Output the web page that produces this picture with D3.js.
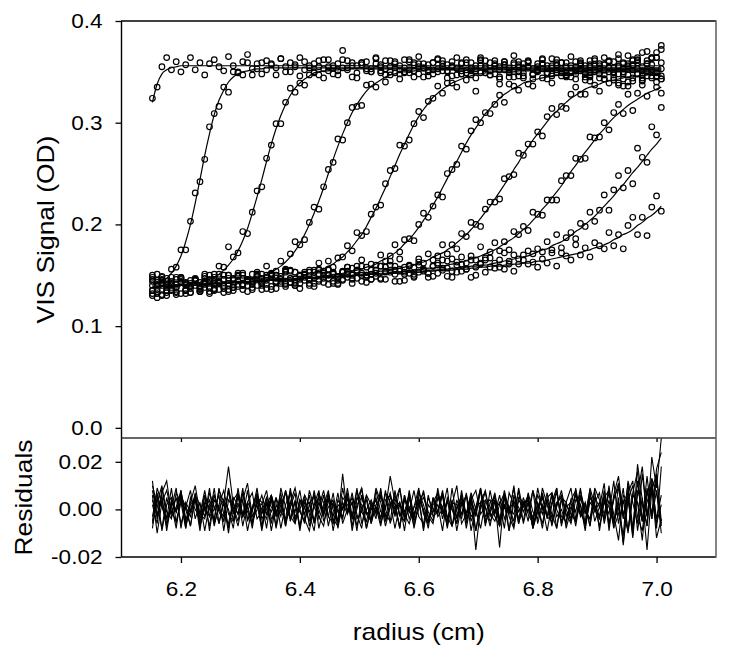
<!DOCTYPE html>
<html><head><meta charset="utf-8">
<script src="https://cdn.jsdelivr.net/npm/d3@7"></script>
<style>
body{margin:0;background:#fff;}
svg{display:block;}
text{font-family:"Liberation Sans", Arial, Helvetica, sans-serif;fill:#000;}
</style>
</head><body>
<svg id="chart" width="729" height="657"></svg>
<script>
// radius grid (cm)
const radius = [
6.152,6.160,6.168,6.176,6.184,6.192,6.200,6.208,6.216,6.224,6.232,6.240,
6.248,6.256,6.264,6.272,6.280,6.288,6.296,6.304,6.312,6.320,6.328,6.336,
6.344,6.352,6.360,6.368,6.376,6.384,6.392,6.400,6.408,6.416,6.424,6.432,
6.440,6.448,6.456,6.464,6.472,6.480,6.488,6.496,6.504,6.512,6.520,6.528,
6.536,6.544,6.552,6.560,6.568,6.576,6.584,6.592,6.600,6.608,6.616,6.624,
6.632,6.640,6.648,6.656,6.664,6.672,6.680,6.688,6.696,6.704,6.712,6.720,
6.728,6.736,6.744,6.752,6.760,6.768,6.776,6.784,6.792,6.800,6.808,6.816,
6.824,6.832,6.840,6.848,6.856,6.864,6.872,6.880,6.888,6.896,6.904,6.912,
6.920,6.928,6.936,6.944,6.952,6.960,6.968,6.976,6.984,6.992,7.000,7.008];

// fitted signal per scan (milli-OD)
const fit1 = [
320,338,348,352,354,355,356,356,356,356,356,356,
356,356,356,356,356,356,356,356,356,356,356,356,
356,356,356,356,356,356,356,356,356,356,356,356,
356,356,356,356,356,356,356,356,356,356,356,356,
356,356,356,356,356,356,356,356,356,356,356,356,
356,356,356,356,356,356,356,356,356,356,356,356,
356,356,356,356,356,356,356,356,356,356,356,356,
356,356,356,356,356,356,356,356,356,356,356,356,
356,356,356,356,356,356,356,356,356,356,356,356];
const fit2 = [
140,142,144,147,152,159,169,183,200,221,244,268,
289,308,322,332,340,345,348,350,351,352,353,353,
354,354,354,354,354,354,354,354,354,354,354,354,
354,354,354,354,354,354,354,354,354,354,354,354,
354,354,354,354,354,354,354,354,354,354,354,354,
354,354,354,354,354,354,354,354,354,354,354,354,
354,354,354,354,354,354,354,354,354,354,354,354,
354,354,354,354,354,354,354,354,354,354,354,354,
354,354,354,354,354,354,354,354,354,354,354,354];
const fit3 = [
138,138,139,139,139,140,140,141,141,142,143,145,
146,148,151,155,160,166,174,184,196,211,227,244,
262,279,294,307,318,327,334,339,343,346,349,350,
351,351,352,352,353,353,353,353,353,353,353,353,
353,353,353,353,353,353,353,353,353,353,353,353,
353,353,353,353,353,353,353,353,353,353,353,353,
353,353,353,353,353,353,353,353,353,353,353,353,
353,353,353,353,353,353,353,353,353,353,353,353,
353,353,353,353,353,353,353,353,353,353,353,353];
const fit4 = [
138,138,139,139,139,139,140,140,140,140,141,141,
141,142,142,142,143,144,144,145,146,147,148,149,
151,153,156,159,163,168,174,181,190,200,211,223,
236,250,264,277,289,300,310,318,325,331,336,339,
342,345,347,348,350,350,350,351,351,351,352,352,
352,352,352,352,352,352,352,352,352,352,352,352,
352,352,352,352,352,352,352,352,352,352,352,352,
352,352,352,352,352,352,352,352,352,352,352,352,
352,352,352,352,352,352,352,352,352,352,352,352];
const fit5 = [
138,138,139,139,139,139,140,140,140,140,141,141,
141,142,142,142,142,143,143,143,144,144,145,145,
145,146,146,147,147,148,149,149,150,152,153,155,
156,159,161,165,168,173,178,184,190,198,207,216,
226,236,247,258,269,279,289,298,306,313,319,325,
329,333,336,339,341,343,345,346,348,348,349,349,
350,350,350,350,350,351,351,351,351,351,351,351,
351,351,351,351,351,351,351,351,351,351,351,351,
351,351,351,351,351,351,351,351,351,351,351,351];
const fit6 = [
138,138,139,139,139,139,140,140,140,140,141,141,
141,142,142,142,142,143,143,143,143,144,144,144,
145,145,145,146,146,146,147,147,147,148,148,149,
149,150,151,151,152,153,154,155,156,158,159,161,
164,166,169,172,176,181,185,191,197,204,211,219,
227,236,245,254,262,271,280,288,295,302,309,314,
319,324,328,331,334,336,339,340,342,343,344,345,
346,347,347,348,348,348,349,349,349,349,349,349,
350,350,350,350,350,350,350,350,350,350,350,350];
const fit7 = [
138,138,139,139,139,139,140,140,140,140,141,141,
141,142,142,142,142,143,143,143,143,144,144,144,
145,145,145,145,146,146,146,146,147,147,147,148,
148,149,149,149,150,150,150,151,151,152,152,153,
154,154,155,156,157,158,159,160,162,163,165,168,
170,172,175,178,182,186,190,195,200,206,212,218,
225,232,239,246,254,261,269,276,283,289,295,301,
307,311,316,320,324,327,330,333,335,336,338,340,
341,342,343,344,345,345,346,346,347,347,347,347];
const fit8 = [
138,138,139,139,139,139,140,140,140,140,141,141,
141,142,142,142,142,143,143,143,143,144,144,144,
145,145,145,145,146,146,146,146,147,147,147,148,
148,148,148,149,149,149,150,150,150,151,151,151,
152,152,153,153,153,154,154,155,155,156,157,157,
158,159,160,161,162,163,164,166,167,169,171,173,
175,178,181,184,187,191,195,199,204,209,215,220,
226,232,238,245,252,258,265,271,277,283,289,294,
300,305,309,313,317,320,323,326,329,331,333,335];
const fit9 = [
138,138,139,139,139,139,140,140,140,140,141,141,
141,142,142,142,142,143,143,143,143,144,144,144,
145,145,145,145,146,146,146,146,147,147,147,148,
148,148,148,149,149,149,149,150,150,150,151,151,
151,151,152,152,152,152,153,153,153,154,155,155,
155,156,156,157,157,158,158,159,159,160,160,161,
162,163,164,165,166,167,168,169,171,173,175,176,
179,181,183,186,189,193,196,200,204,208,213,218,
223,228,234,239,245,251,256,262,268,274,279,285];
const fit10 = [
138,138,139,139,139,139,140,140,140,140,141,141,
141,142,142,142,142,143,143,143,143,144,144,144,
145,145,145,145,146,146,146,146,147,147,147,148,
148,148,148,149,149,149,149,150,150,150,151,151,
151,151,152,152,152,152,153,153,153,154,154,154,
155,155,155,155,156,156,156,157,157,158,158,159,
159,159,160,160,161,161,162,162,163,164,164,165,
166,167,168,169,170,171,172,174,175,177,178,180,
182,185,187,190,192,195,199,202,206,209,213,218];

// residuals per scan (milli-OD)
const res1 = [
4,-3,7,12,-2,5,-6,1,8,-4,3,-9,
2,6,-1,-5,9,0,-7,4,11,-3,2,-8,
5,1,-2,7,-6,3,-1,8,-4,-9,2,5,
-3,6,0,-5,15,-2,3,-7,1,4,-6,8,
-1,-3,5,2,-8,6,-4,1,9,-2,-6,3,
7,-1,-5,4,-9,2,6,-3,0,8,-7,3,
5,-4,1,-2,10,-6,2,4,-8,-1,6,-3,
7,0,-5,3,9,-4,2,-7,5,1,-3,8,
-6,4,11,-2,-9,6,3,-5,14,-4,8,-10];
const res2 = [
-5,9,2,-7,4,-1,6,-8,3,10,-2,-4,
7,1,-6,3,-10,5,2,-3,8,-5,0,6,
-2,4,-7,9,1,-4,3,-8,6,2,-5,1,
8,-3,-6,4,0,7,-9,2,5,-1,-4,9,
3,-7,1,6,-2,-5,8,-3,4,0,-8,5,
-1,7,-4,2,10,-6,-2,5,-3,8,1,-7,
4,-16,6,-9,3,1,-5,7,-1,-4,9,2,
-6,3,5,-8,0,6,-3,2,-7,9,4,-2,
7,-5,1,-11,12,3,-6,15,-3,9,-8,18];
const res3 = [
10,2,-8,5,-3,1,7,-6,-1,4,-9,6,
0,-4,8,3,18,2,-2,9,-5,1,6,-7,
3,-1,5,-8,2,7,-4,0,-6,8,1,-3,
-7,4,2,-5,9,-1,3,-9,6,-2,0,5,
-4,8,-6,1,3,-3,7,-8,2,5,-1,-5,
9,-2,4,-7,0,6,-4,1,-9,3,8,-2,
-5,2,7,-3,-8,4,1,6,-6,-1,5,-4,
3,9,-7,2,-2,-5,6,0,-4,8,-9,4,
1,-6,10,-3,5,-12,8,2,-7,11,-4,6];
const res4 = [
-8,5,1,-4,9,-6,3,2,-7,5,-2,8,
-3,0,6,-9,4,1,-5,7,-1,-6,3,2,
8,-4,-2,5,-7,3,9,-1,-5,2,6,-8,
1,4,-3,7,-6,0,5,-2,-8,6,2,-4,
9,-5,3,1,-7,4,-1,8,-3,-6,5,0,
-2,6,-8,3,2,-4,7,-5,1,9,-3,-1,
4,-7,5,0,-2,8,-6,3,-4,6,1,-9,
2,7,-3,-5,4,-1,9,-7,3,0,-4,5,
8,-2,-13,6,4,-8,12,-5,9,-2,17,24];
const res5 = [
6,-10,3,8,-1,-5,4,0,-7,6,2,-3,
9,-6,1,4,-8,3,-2,7,-4,0,5,-9,
2,6,-3,-1,8,-5,4,-7,1,3,-6,7,
-2,5,-9,2,0,6,-4,8,-1,-5,3,1,
-7,4,6,-3,9,-2,-6,1,5,-8,2,-1,
7,-4,3,0,-6,8,-3,5,-17,1,4,-2,
6,-7,2,-1,9,-5,3,4,-8,0,7,-3,
-5,1,8,-2,-6,4,2,-9,6,-1,3,-4,
9,-7,5,-15,4,10,-3,-9,7,13,-6,2];
const res6 = [
-3,7,-9,2,5,-1,8,-4,0,6,-7,3,
1,-5,9,-2,-6,4,7,-3,2,-8,5,0,
-4,6,-1,3,-7,8,-5,2,4,-2,-9,6,
3,-3,7,-6,1,5,-4,0,9,-8,2,-1,
6,-2,-5,8,-3,4,1,-7,3,7,-4,-1,
2,-9,5,0,-3,6,-6,4,8,-2,1,-5,
-1,3,-8,7,2,-4,5,-2,-6,9,0,4,
-7,2,6,-3,1,-5,8,-1,-4,3,7,-6,
4,-8,-2,9,-10,6,3,-13,8,-4,14,-7];
const res7 = [
8,-2,4,-6,1,9,-8,3,-1,5,-4,2,
-7,6,0,-3,8,-5,2,4,-9,1,7,-2,
3,-6,5,-1,-4,9,-3,0,6,-7,2,8,
-5,1,4,-8,3,-2,7,-4,-1,6,-6,2,
5,0,14,3,9,-5,1,-2,4,-9,6,-3,
-1,8,-4,2,-6,5,-2,7,0,-8,3,4,
-3,-7,6,1,-5,9,-1,3,-4,2,-8,5,
7,-3,0,-6,4,8,-2,-5,6,1,-7,3,
-2,12,-6,4,-9,7,16,-5,3,10,-12,-4];
const res8 = [
2,-6,9,-1,-4,7,3,-8,5,0,-3,6,
-9,4,1,-5,8,-2,6,-7,3,-1,9,-4,
0,5,-8,2,7,-3,-6,4,1,-5,8,-2,
6,-7,3,-1,-4,9,-3,5,2,-8,0,4,
-6,1,7,-2,3,-9,5,-4,8,-1,-5,2,
4,6,-3,-7,1,5,-8,3,-2,9,-6,0,
7,-4,2,-9,6,-1,3,-5,8,1,-6,4,
-2,-8,5,3,-4,7,-1,-6,9,2,-3,6,
-7,5,9,-4,11,-8,6,18,-3,13,7,-6];
const res9 = [
-6,3,10,-4,2,-8,6,1,-3,7,-5,0,
4,-7,2,8,-2,-5,9,-3,1,-6,5,3,
-8,6,-2,4,-5,1,7,-9,3,-1,6,-4,
2,8,-6,0,-3,5,-7,4,9,-2,-5,1,
-4,7,3,-8,2,-1,6,-5,0,8,-3,-6,
5,1,-7,9,-4,3,-2,6,-9,2,7,-3,
0,-5,8,-1,4,-6,2,5,-8,3,-2,7,
-4,9,-6,1,3,-7,5,-2,8,-5,1,11,
-9,6,14,-3,8,-11,19,4,-7,22,9,30];
const res10 = [
12,-4,6,-9,3,-1,8,-5,2,5,-7,1,
-3,9,-6,4,0,-8,6,-2,3,7,-4,-1,
5,-9,2,-3,8,1,-6,4,-2,6,-5,3,
-1,7,-4,-7,5,2,-3,9,-6,0,4,-2,
8,-5,1,3,-8,6,-1,-4,7,2,-6,5,
-3,0,9,-7,4,-2,6,-9,1,3,-5,8,
-2,6,-4,1,-7,5,3,-1,8,-6,2,-3,
6,-8,4,0,-5,9,-2,3,-7,5,1,-4,
10,-6,3,-14,7,12,-9,5,-17,8,15,-5];

// axis ticks / labels
const xTicks = [6.2, 6.4, 6.6, 6.8, 7.0];
const xTickLabels = ["6.2", "6.4", "6.6", "6.8", "7.0"];
const yTopTicks = [0.0, 0.1, 0.2, 0.3, 0.4];
const yTopTickLabels = ["0.0", "0.1", "0.2", "0.3", "0.4"];
const yResTicks = [-0.02, 0.0, 0.02];
const yResTickLabels = ["-0.02", "0.00", "0.02"];
const xTitle = "radius (cm)";
const yTopTitle = "VIS Signal (OD)";
const yResTitle = "Residuals";

const fits = [fit1, fit2, fit3, fit4, fit5, fit6, fit7, fit8, fit9, fit10];
const resids = [res1, res2, res3, res4, res5, res6, res7, res8, res9, res10];

// layout
const W = 729, H = 657;
const L = 121.5, R = 716, T = 21, MID = 438, B = 557;
const TICK_FONT = 20.5, TITLE_FONT = 24, STRETCH = 1.1;

const x = d3.scaleLinear().domain([6.1, 7.1]).range([L, R]);
const yTop = d3.scaleLinear().domain([-0.01, 0.4]).range([MID, T]);
const yRes = d3.scaleLinear().domain([-0.02, 0.03]).range([B, MID]);

const svg = d3.select("#chart");
svg.append("rect").attr("width", W).attr("height", H).attr("fill", "#fff");
svg.append("clipPath").attr("id", "resClip").append("rect")
  .attr("x", L).attr("y", MID - 1).attr("width", R - L).attr("height", B - MID + 1);

// top panel: points + fits
const gPts = svg.append("g");
fits.forEach((fit, s) => {
  const pts = radius.map((r, i) => ({ r: r, v: (fit[i] + resids[s][i]) / 1000 }));
  gPts.append("g").selectAll("circle").data(pts).join("circle")
    .attr("cx", d => x(d.r)).attr("cy", d => yTop(d.v)).attr("r", 2.8)
    .attr("fill", "none").attr("stroke", "#000").attr("stroke-width", 1.2);
});
const fitLine = d3.line().x((d, i) => x(radius[i])).y(d => yTop(d / 1000)).curve(d3.curveMonotoneX);
svg.append("g").selectAll("path").data(fits).join("path")
  .attr("d", fitLine).attr("fill", "none").attr("stroke", "#000").attr("stroke-width", 1.2);

// residual panel
const resLine = d3.line().x((d, i) => x(radius[i])).y(d => yRes(d / 1000));
svg.append("g").attr("clip-path", "url(#resClip)").selectAll("path").data(resids).join("path")
  .attr("d", resLine).attr("fill", "none").attr("stroke", "#000").attr("stroke-width", 1.1);

// axes
function styleAxis(g) {
  g.select(".domain").remove();
  g.selectAll(".tick line").attr("stroke", "#000").attr("stroke-width", 1.3);
  g.selectAll(".tick text").attr("font-size", TICK_FONT).attr("font-family", null).attr("fill", "#000");
}
svg.append("g").attr("transform", `translate(${L},0)`)
  .call(d3.axisLeft(yTop).tickValues(yTopTicks).tickFormat((d, i) => yTopTickLabels[i]).tickSize(6).tickPadding(13))
  .call(styleAxis);
svg.append("g").attr("transform", `translate(${L},0)`)
  .call(d3.axisLeft(yRes).tickValues(yResTicks).tickFormat((d, i) => yResTickLabels[i]).tickSize(6).tickPadding(13))
  .call(styleAxis);
svg.append("g").attr("transform", `translate(0,${B})`)
  .call(d3.axisBottom(x).tickValues(xTicks).tickFormat((d, i) => xTickLabels[i]).tickSize(6).tickPadding(18))
  .call(styleAxis);
// inner ticks at top of residual panel
svg.append("g").attr("transform", `translate(0,${MID})`)
  .call(d3.axisTop(x).tickValues(xTicks).tickFormat("").tickSize(-4))
  .call(styleAxis);

// frame
const frame = svg.append("g").attr("fill", "none");
frame.append("line").attr("x1", L - 0.5).attr("x2", R).attr("y1", T).attr("y2", T).attr("stroke", "#000").attr("stroke-width", 1.4);
frame.append("line").attr("x1", L).attr("x2", L).attr("y1", T).attr("y2", B).attr("stroke", "#000").attr("stroke-width", 1.4);
frame.append("line").attr("x1", L).attr("x2", R).attr("y1", B).attr("y2", B).attr("stroke", "#000").attr("stroke-width", 1.4);
frame.append("line").attr("x1", L).attr("x2", R).attr("y1", MID).attr("y2", MID).attr("stroke", "#333").attr("stroke-width", 1.4);
frame.append("line").attr("x1", R).attr("x2", R).attr("y1", T - 0.7).attr("y2", B + 0.7).attr("stroke", "#666").attr("stroke-width", 1.6);

// titles
svg.append("text").attr("x", (L + R) / 2).attr("y", 640).attr("text-anchor", "middle")
  .attr("font-size", TITLE_FONT).text(xTitle);
svg.append("text").attr("transform", `translate(54,${(T + MID) / 2}) rotate(-90)`).attr("text-anchor", "middle")
  .attr("font-size", TITLE_FONT).text(yTopTitle);
svg.append("text").attr("transform", `translate(32,${(MID + B) / 2}) rotate(-90)`).attr("text-anchor", "middle")
  .attr("font-size", TITLE_FONT).text(yResTitle);

// widen glyphs slightly to match reference lettering
svg.selectAll("text").each(function () {
  const t = this.textContent;
  if (!t) return;
  const len = this.getComputedTextLength();
  d3.select(this).attr("textLength", len * STRETCH).attr("lengthAdjust", "spacingAndGlyphs");
});
</script>
</body></html>
